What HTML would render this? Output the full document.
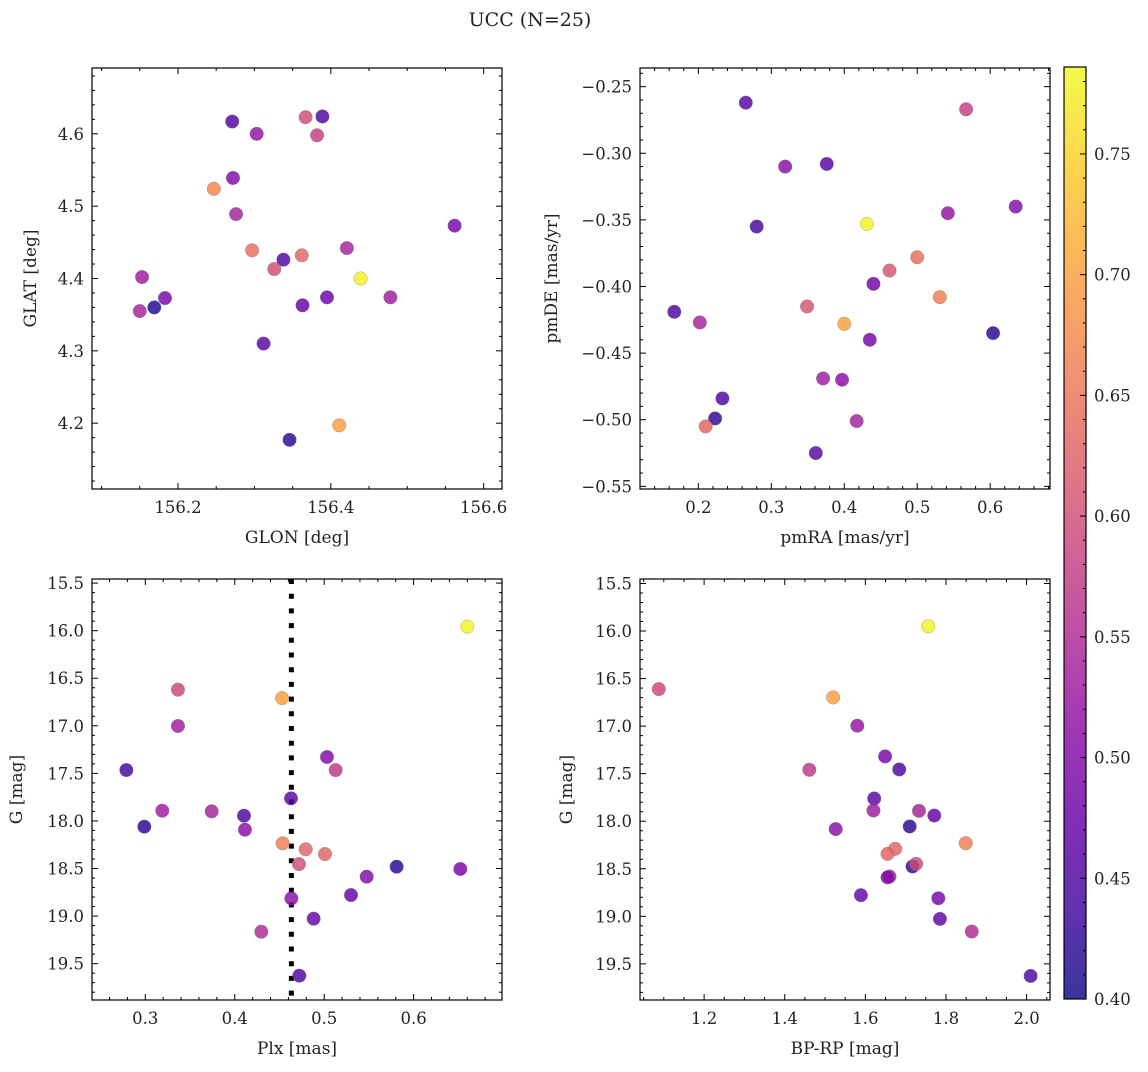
<!DOCTYPE html>
<html><head><meta charset="utf-8"><style>
body{margin:0;background:#fff;}
svg text{font-family:"DejaVu Serif","Liberation Serif",serif;fill:#222;}
</style></head><body>
<svg id="fig" width="1148" height="1067" xmlns="http://www.w3.org/2000/svg">
<defs><linearGradient id="plasma" x1="0" y1="1" x2="0" y2="0">
<stop offset="0" stop-color="#0d0887"/><stop offset="0.1" stop-color="#41049d"/><stop offset="0.2" stop-color="#6a00a8"/><stop offset="0.3" stop-color="#8f0da4"/><stop offset="0.4" stop-color="#b12a90"/><stop offset="0.5" stop-color="#cc4778"/><stop offset="0.6" stop-color="#e16462"/><stop offset="0.7" stop-color="#f2844b"/><stop offset="0.8" stop-color="#fca636"/><stop offset="0.9" stop-color="#fcce25"/><stop offset="1" stop-color="#f0f921"/>
</linearGradient></defs>
<text x="530" y="26" font-size="19" text-anchor="middle">UCC (N=25)</text>
</svg>
<script>
// ---- data ----
const glon=[156.271,156.303,156.367,156.389,156.382,156.272,156.247,156.276,156.562,156.421,156.297,156.362,156.338,156.326,156.439,156.153,156.395,156.478,156.183,156.169,156.150,156.363,156.312,156.411,156.346];
const glat=[4.617,4.600,4.623,4.624,4.598,4.539,4.524,4.489,4.473,4.442,4.439,4.432,4.426,4.413,4.400,4.402,4.374,4.374,4.373,4.360,4.355,4.363,4.310,4.197,4.177];
const cTL=[0.45,0.52,0.60,0.45,0.58,0.50,0.67,0.54,0.49,0.54,0.64,0.63,0.45,0.60,0.78,0.53,0.48,0.53,0.49,0.41,0.54,0.47,0.46,0.70,0.42];
const pmra=[0.265,0.567,0.319,0.376,0.635,0.542,0.431,0.280,0.500,0.462,0.440,0.531,0.349,0.167,0.202,0.400,0.604,0.435,0.371,0.397,0.233,0.223,0.417,0.210,0.361];
const pmde=[-0.262,-0.267,-0.310,-0.308,-0.340,-0.345,-0.353,-0.355,-0.378,-0.388,-0.398,-0.408,-0.415,-0.419,-0.427,-0.428,-0.435,-0.440,-0.469,-0.470,-0.484,-0.499,-0.501,-0.505,-0.525];
const cTR=[0.46,0.58,0.51,0.46,0.50,0.52,0.78,0.44,0.64,0.61,0.48,0.66,0.61,0.45,0.54,0.70,0.42,0.49,0.53,0.51,0.45,0.42,0.54,0.63,0.46];
const plx=[0.660,0.3365,0.4528,0.3365,0.2788,0.5031,0.5128,0.4629,0.3190,0.3742,0.4103,0.2989,0.4114,0.4536,0.4793,0.5009,0.4718,0.5810,0.6522,0.5475,0.5300,0.4633,0.4882,0.4297,0.4722];
const gBL=[15.958,16.620,16.708,17.002,17.465,17.328,17.465,17.762,17.892,17.899,17.945,18.060,18.092,18.235,18.298,18.348,18.453,18.481,18.505,18.586,18.779,18.814,19.027,19.164,19.626];
const cBL=[0.78,0.59,0.70,0.53,0.44,0.50,0.57,0.46,0.53,0.54,0.45,0.42,0.51,0.66,0.63,0.63,0.60,0.42,0.49,0.50,0.47,0.51,0.47,0.55,0.45];
const bprp=[1.756,1.0876,1.520,1.580,1.649,1.684,1.461,1.622,1.620,1.733,1.771,1.710,1.5264,1.849,1.674,1.655,1.717,1.726,1.660,1.589,1.781,1.785,1.864,2.010,1.655];
const gBR=[15.951,16.610,16.698,16.996,17.319,17.456,17.459,17.761,17.887,17.891,17.940,18.055,18.083,18.231,18.290,18.343,18.476,18.448,18.582,18.778,18.810,19.027,19.160,19.627,18.59];
const cBR=[0.78,0.59,0.70,0.52,0.49,0.45,0.57,0.46,0.53,0.54,0.47,0.42,0.51,0.66,0.63,0.63,0.42,0.60,0.53,0.47,0.49,0.47,0.55,0.45,0.50];
const plxRef=[0.4633];
const cbTicks=[0.40,0.45,0.50,0.55,0.60,0.65,0.70,0.75];
const CMIN=0.40, CMAX=0.786;

const NS="http://www.w3.org/2000/svg";
const svg=document.getElementById('fig');
function el(tag,attrs,parent){const e=document.createElementNS(NS,tag);for(const k in attrs)e.setAttribute(k,attrs[k]);(parent||svg).appendChild(e);return e;}
const stops=[[0,[13,8,135]],[0.1,[65,4,157]],[0.2,[106,0,168]],[0.3,[143,13,164]],[0.4,[177,42,144]],[0.5,[204,71,120]],[0.6,[225,100,98]],[0.7,[242,132,75]],[0.8,[252,166,54]],[0.9,[252,206,37]],[1,[240,249,33]]];
function cmap(v){let t=Math.max(0,Math.min(1,(v-CMIN)/(CMAX-CMIN)));for(let i=0;i<stops.length-1;i++){const a=stops[i],b=stops[i+1];if(t<=b[0]){const f=(t-a[0])/(b[0]-a[0]);const c=a[1].map((x,j)=>Math.round(x+(b[1][j]-x)*f));return `rgb(${c})`;}}return 'rgb(240,249,33)';}
function fmt(v,d){const s=v.toFixed(d);return s.replace('-','\u2212');}

function panel(o){
  const g=el('g',{});
  
  
  const X=v=>o.L+(v-o.x0)/(o.x1-o.x0)*(o.R-o.L);
  const Y=v=>o.B-(v-o.y0)/(o.y1-o.y0)*(o.B-o.T);
  const tg=el('g',{stroke:'#000','stroke-width':1},g);
  const eps=1e-9;
  const xlo=Math.min(o.x0,o.x1),xhi=Math.max(o.x0,o.x1),ylo=Math.min(o.y0,o.y1),yhi=Math.max(o.y0,o.y1);
  for(let k=Math.ceil(xlo/o.xmin-eps);k*o.xmin<=xhi+eps;k++){const v=k*o.xmin;const px=X(v);const major=Math.abs(v/o.xmaj-Math.round(v/o.xmaj))<1e-6;const len=major?6:3;
    el('line',{x1:px,y1:o.B,x2:px,y2:o.B-len},tg);el('line',{x1:px,y1:o.T,x2:px,y2:o.T+len},tg);
    if(major){const t=el('text',{x:px,y:o.B+24,'font-size':16.5,'text-anchor':'middle'},g);t.textContent=fmt(v,o.xd);}}
  for(let k=Math.ceil(ylo/o.ymin-eps);k*o.ymin<=yhi+eps;k++){const v=k*o.ymin;const py=Y(v);const major=Math.abs(v/o.ymaj-Math.round(v/o.ymaj))<1e-6;const len=major?6:3;
    el('line',{x1:o.L,y1:py,x2:o.L+len,y2:py},tg);el('line',{x1:o.R,y1:py,x2:o.R-len,y2:py},tg);
    if(major){const t=el('text',{x:o.L-8,y:py+6,'font-size':16.5,'text-anchor':'end'},g);t.textContent=fmt(v,o.yd);}}
  if(o.vline){o.vline.forEach(v=>{const l=el('line',{x1:X(v),y1:o.T,x2:X(v),y2:o.B,stroke:'#000','stroke-width':5,'stroke-dasharray':'5 9.7'},g);});}
  for(let i=0;i<o.xs.length;i++){
    const c=el('circle',{cx:X(o.xs[i]),cy:Y(o.ys[i]),r:6.8,fill:cmap(o.cs[i]),'fill-opacity':0.82,stroke:'#777','stroke-width':0.3},g);
    
    
  }
  const f=el('rect',{x:o.L,y:o.T,width:o.R-o.L,height:o.B-o.T,fill:'none',stroke:'#000','stroke-width':1.2},g);
  
  const xl=el('text',{x:(o.L+o.R)/2,y:o.B+54,'font-size':17,'text-anchor':'middle'},g);xl.textContent=o.xlab;
  
  const yl=el('text',{x:o.ylx,y:(o.T+o.B)/2,'font-size':17,'text-anchor':'middle',transform:`rotate(-90 ${o.ylx} ${(o.T+o.B)/2})`},g);yl.textContent=o.ylab;
  
}
panel({name:'glon-glat-panel',L:92,R:502,T:68,B:489,x0:156.0875,x1:156.624,y0:4.109,y1:4.691,xmaj:0.2,xmin:0.05,ymaj:0.1,ymin:0.02,xd:1,yd:1,xs:glon,ys:glat,cs:cTL,xlab:'GLON [deg]',ylab:'GLAT [deg]',ylx:36});
panel({name:'proper-motion-panel',L:640,R:1050,T:68,B:489,x0:0.12,x1:0.682,y0:-0.552,y1:-0.236,xmaj:0.1,xmin:0.02,ymaj:0.05,ymin:0.01,xd:1,yd:2,xs:pmra,ys:pmde,cs:cTR,xlab:'pmRA [mas/yr]',ylab:'pmDE [mas/yr]',ylx:557});
panel({name:'plx-g-panel',L:92,R:502,T:579,B:1000,x0:0.2404,x1:0.6988,y0:19.882,y1:15.457,xmaj:0.1,xmin:0.02,ymaj:0.5,ymin:0.1,xd:1,yd:1,xs:plx,ys:gBL,cs:cBL,xlab:'Plx [mas]',ylab:'G [mag]',ylx:22,vline:plxRef});
panel({name:'color-magnitude-panel',L:640,R:1050,T:579,B:1000,x0:1.041,x1:2.058,y0:19.88,y1:15.453,xmaj:0.2,xmin:0.05,ymaj:0.5,ymin:0.1,xd:1,yd:1,xs:bprp,ys:gBR,cs:cBR,xlab:'BP-RP [mag]',ylab:'G [mag]',ylx:572});

const cb=el('g',{});


const cbT=67,cbB=999,cbL=1064,cbR=1086;
el('rect',{x:cbL,y:cbT,width:cbR-cbL,height:cbB-cbT,fill:'url(#plasma)','fill-opacity':0.82},cb);
const CY=v=>cbB-(v-CMIN)/(CMAX-CMIN)*(cbB-cbT);
for(let k=40;k/100<=CMAX+1e-9;k++){const v=k/100;const major=k%5===0;el('line',{x1:cbR,y1:CY(v),x2:cbR-(major?6:3),y2:CY(v),stroke:'#000','stroke-width':1},cb);}
cbTicks.forEach(v=>{const t=el('text',{x:cbR+8,y:CY(v)+6,'font-size':16.5},cb);t.textContent=v.toFixed(2);});
el('rect',{x:cbL,y:cbT,width:cbR-cbL,height:cbB-cbT,fill:'none',stroke:'#000','stroke-width':1.2},cb);
</script>
</body></html>
